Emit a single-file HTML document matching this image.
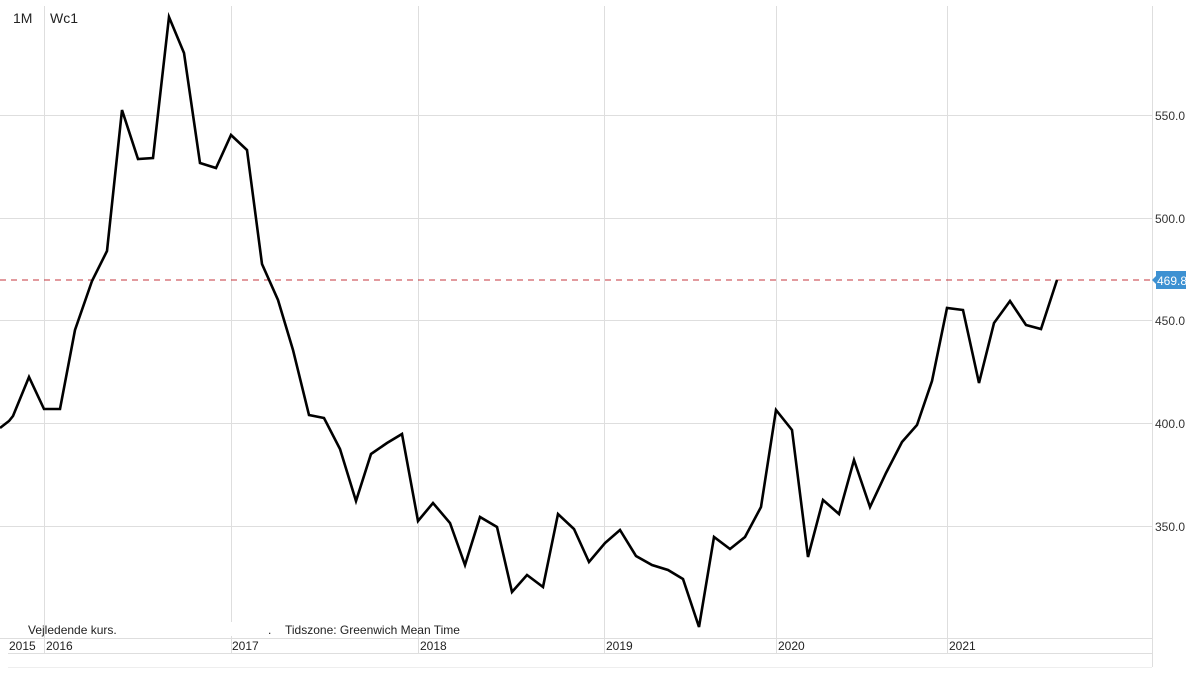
<!DOCTYPE html>
<html><head><meta charset="utf-8"><style>
html,body{margin:0;padding:0;background:#fff;}
svg{display:block;font-family:"Liberation Sans",Arial,sans-serif;}
</style></head><body>
<svg width="1200" height="675" viewBox="0 0 1200 675" xmlns="http://www.w3.org/2000/svg">
<rect width="1200" height="675" fill="#fff"/>
<g stroke="#dedede" stroke-width="1">
<line x1="0" y1="115.5" x2="1152" y2="115.5"/>
<line x1="0" y1="218.5" x2="1152" y2="218.5"/>
<line x1="0" y1="320.5" x2="1152" y2="320.5"/>
<line x1="0" y1="423.5" x2="1152" y2="423.5"/>
<line x1="0" y1="526.5" x2="1152" y2="526.5"/>
<line x1="44.5" y1="6" x2="44.5" y2="653"/>
<line x1="231.5" y1="6" x2="231.5" y2="653"/>
<line x1="418.5" y1="6" x2="418.5" y2="653"/>
<line x1="604.5" y1="6" x2="604.5" y2="653"/>
<line x1="776.5" y1="6" x2="776.5" y2="653"/>
<line x1="947.5" y1="6" x2="947.5" y2="653"/>
<line x1="1152.5" y1="6" x2="1152.5" y2="667"/>
<line x1="0" y1="638.5" x2="1152" y2="638.5"/>
<line x1="8" y1="653.5" x2="1152" y2="653.5"/>
<line x1="8" y1="667.5" x2="1152" y2="667.5" stroke="#eee"/>
</g>
<rect x="118" y="622" width="150" height="14" fill="#fff"/>
<line x1="0" y1="280" x2="1152" y2="280" stroke="#c4343c" stroke-width="1" stroke-dasharray="6,5"/>
<polyline fill="none" stroke="#000" stroke-width="2.6" stroke-linejoin="miter" points="
0,428 9,421 13,416 29,377 44,409 60,409 75,330 92,281 107,251 122,110 138,159 153,158 169,17 184,53 200,163 216,168 231,135 247,150 262,264 278,300 293,350 309,415 324,418 340,449 356,501 371,454 387,443 402,434 418,521 433,503 450,523 465,565 480,517 497,527 512,592 527,575 543,587 558,514 574,529 589,562 605,543 620,530 636,556 652,565 668,570 683,579 699,627 714,537 730,549 745,537 761,507 776,410 792,430 808,557 823,500 839,514 854,460 870,507 886,473 902,442 917,425 932,381 947,308 963,310 979,383 994,323 1010,301 1026,325 1041,329 1057,280"/>
<g font-size="14" fill="#222">
<text x="13" y="23">1M</text>
<text x="50" y="23">Wc1</text>
</g>
<g font-size="12" fill="#333">
<text x="1155" y="120">550.0</text>
<text x="1155" y="223">500.0</text>
<text x="1155" y="325">450.0</text>
<text x="1155" y="428">400.0</text>
<text x="1155" y="531">350.0</text>
</g>
<polygon points="1152,280 1156,276 1156,271 1186,271 1186,289 1156,289 1156,284" fill="#3d91d2"/>
<text x="1157" y="285" font-size="12" fill="#fff">469.8</text>
<g font-size="12" fill="#222">
<text x="28" y="634">Vejledende kurs.</text>
<text x="268" y="634">.</text>
<text x="285" y="634">Tidszone: Greenwich Mean Time</text>
<text x="9" y="650">2015</text>
<text x="46" y="650">2016</text>
<text x="232" y="650">2017</text>
<text x="420" y="650">2018</text>
<text x="606" y="650">2019</text>
<text x="778" y="650">2020</text>
<text x="949" y="650">2021</text>
</g>
</svg>
</body></html>
